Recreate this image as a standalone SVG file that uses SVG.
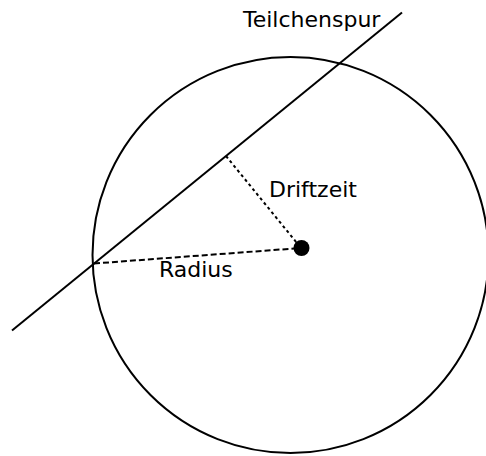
<svg xmlns="http://www.w3.org/2000/svg" width="486" height="456" viewBox="0 0 486 456">
<style>
.s{fill:none;stroke:#000;stroke-width:2}
.t{font-family:"DejaVu Sans",sans-serif;font-size:22px;fill:#000}
</style>
<rect width="486" height="456" fill="#fff"/>
<g id="kammer"><circle class="s" cx="290.5" cy="255" r="198"/></g>
<g id="draht"><circle cx="301.5" cy="248" r="8" fill="#000"/></g>
<g id="connectors">
<line class="s" x1="12" y1="330.5" x2="402" y2="12.5"/>
<line class="s" x1="94" y1="263.5" x2="301" y2="248" stroke-dasharray="6,3"/>
<line class="s" x1="226" y1="156" x2="301" y2="248" stroke-dasharray="3,3"/>
</g>
<g id="labels">
<text class="t" x="243" y="27">Teilchenspur</text>
<text class="t" x="269" y="197">Driftzeit</text>
<text class="t" x="159" y="277">Radius</text>
</g>
</svg>
